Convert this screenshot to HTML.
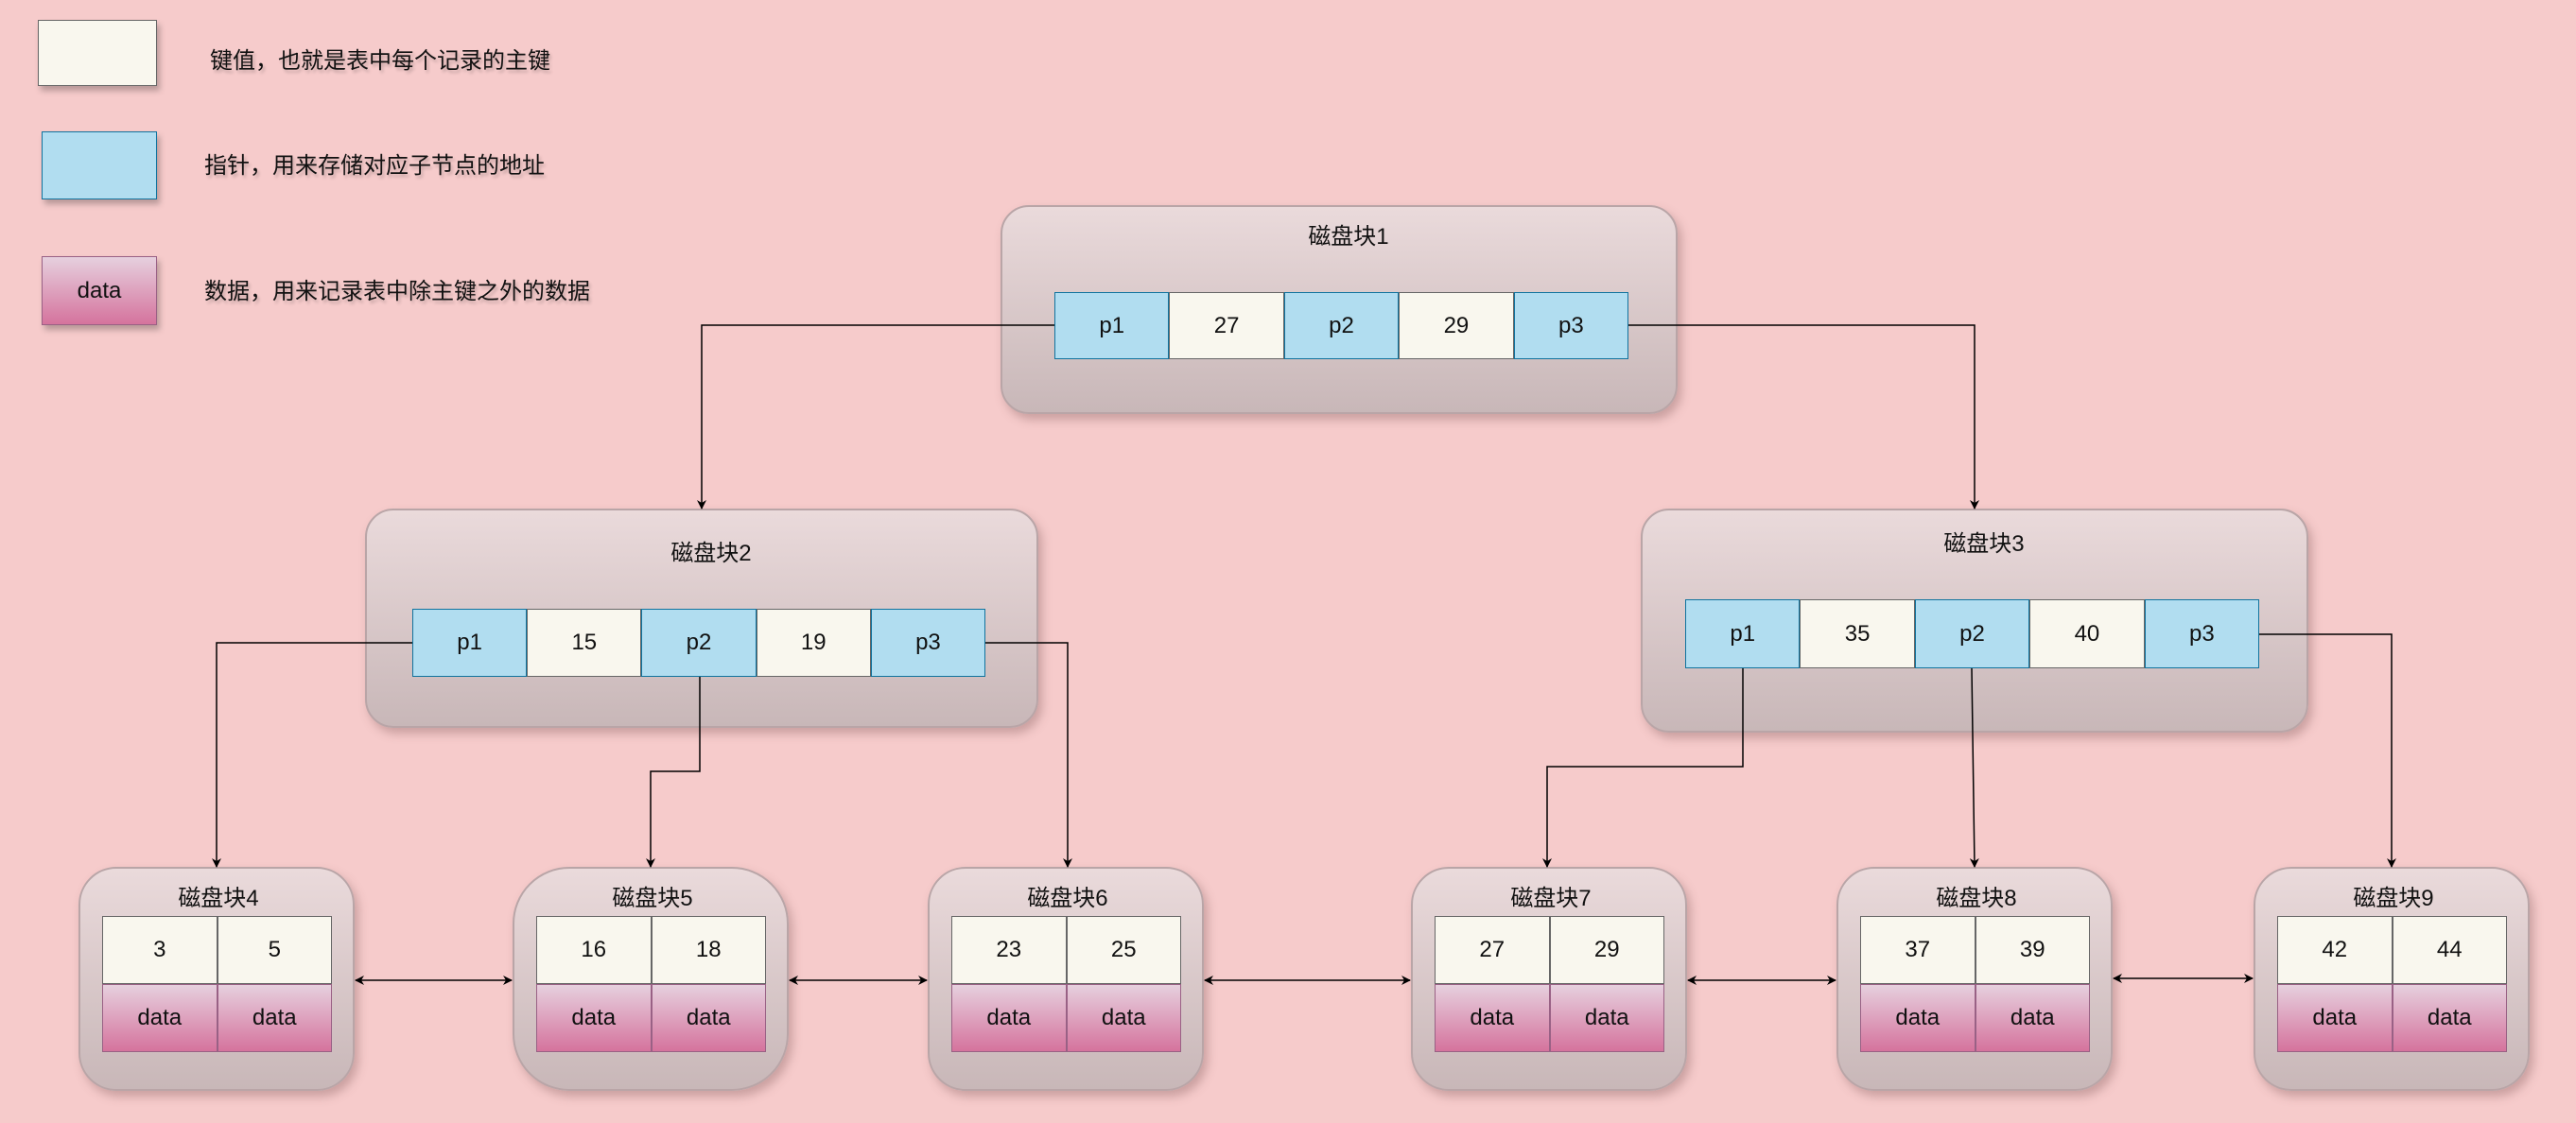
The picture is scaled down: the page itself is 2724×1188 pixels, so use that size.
<!DOCTYPE html>
<html><head><meta charset="utf-8">
<style>
*{margin:0;padding:0;box-sizing:border-box}
body{width:2724px;height:1188px;background:#f6cbcb;position:relative;overflow:hidden;font-family:"Liberation Sans","Noto Sans CJK SC",sans-serif;color:#111}
.a{position:absolute}
.blk{position:absolute;background:linear-gradient(#eadadb,#c8b7b8);border:2px solid #b9a5a7;box-shadow:4px 6px 10px rgba(120,80,80,.35)}
.ttl{position:absolute;left:0;right:0;text-align:center;font-size:24px}
.big .ttl{left:20px}
.row{position:absolute;display:flex}
.c{flex:1;display:flex;align-items:center;justify-content:center;font-size:24px;height:100%}
.k{background:#f9f7ee;border:1px solid #666}
.p{background:#b1ddf0;border:1.5px solid #10739e}
.d{background:linear-gradient(#e6d0de,#d5739d);border:1px solid #996185}
.lg{position:absolute;font-size:24px;text-shadow:2px 3px 3px rgba(0,0,0,.2)}
</style></head><body>

<div class="a k" style="left:40px;top:21px;width:126px;height:70px;box-shadow:3px 5px 6px rgba(0,0,0,.25)"></div>
<div class="a p" style="left:44px;top:139px;width:122px;height:72px;box-shadow:3px 5px 6px rgba(0,0,0,.25)"></div>
<div class="a d c" style="left:44px;top:271px;width:122px;height:73px;box-shadow:3px 5px 6px rgba(0,0,0,.25)">data</div>
<div class="lg" style="left:222px;top:44px">键值，也就是表中每个记录的主键</div>
<div class="lg" style="left:216px;top:155px">指针，用来存储对应子节点的地址</div>
<div class="lg" style="left:216px;top:288px">数据，用来记录表中除主键之外的数据</div>

<div class="blk big" style="left:1058px;top:217px;width:716px;height:221px;border-radius:30px">
 <div class="ttl" style="top:11px">磁盘块1</div>
</div>
<div class="row" style="left:1115px;top:309px;width:607px;height:71px">
 <div class="c p">p1</div><div class="c k">27</div><div class="c p">p2</div><div class="c k">29</div><div class="c p">p3</div>
</div>

<div class="blk big" style="left:386px;top:538px;width:712px;height:232px;border-radius:30px">
 <div class="ttl" style="top:25px">磁盘块2</div>
</div>
<div class="row" style="left:436px;top:644px;width:606px;height:72px">
 <div class="c p">p1</div><div class="c k">15</div><div class="c p">p2</div><div class="c k">19</div><div class="c p">p3</div>
</div>

<div class="blk big" style="left:1735px;top:538px;width:706px;height:237px;border-radius:30px">
 <div class="ttl" style="top:15px">磁盘块3</div>
</div>
<div class="row" style="left:1782px;top:634px;width:607px;height:73px">
 <div class="c p">p1</div><div class="c k">35</div><div class="c p">p2</div><div class="c k">40</div><div class="c p">p3</div>
</div>

<div class="blk" style="left:83px;top:917px;width:292px;height:237px;border-radius:40px"><div class="ttl" style="top:11px;left:4px">磁盘块4</div></div>
<div class="blk" style="left:542px;top:917px;width:292px;height:237px;border-radius:60px"><div class="ttl" style="top:11px;left:4px">磁盘块5</div></div>
<div class="blk" style="left:981px;top:917px;width:292px;height:237px;border-radius:40px"><div class="ttl" style="top:11px;left:4px">磁盘块6</div></div>
<div class="blk" style="left:1492px;top:917px;width:292px;height:237px;border-radius:40px"><div class="ttl" style="top:11px;left:4px">磁盘块7</div></div>
<div class="blk" style="left:1942px;top:917px;width:292px;height:237px;border-radius:40px"><div class="ttl" style="top:11px;left:4px">磁盘块8</div></div>
<div class="blk" style="left:2383px;top:917px;width:292px;height:237px;border-radius:40px"><div class="ttl" style="top:11px;left:4px">磁盘块9</div></div>

<div class="row" style="left:108px;top:969px;width:243px;height:72px"><div class="c k">3</div><div class="c k">5</div></div>
<div class="row" style="left:108px;top:1041px;width:243px;height:72px"><div class="c d">data</div><div class="c d">data</div></div>
<div class="row" style="left:567px;top:969px;width:243px;height:72px"><div class="c k">16</div><div class="c k">18</div></div>
<div class="row" style="left:567px;top:1041px;width:243px;height:72px"><div class="c d">data</div><div class="c d">data</div></div>
<div class="row" style="left:1006px;top:969px;width:243px;height:72px"><div class="c k">23</div><div class="c k">25</div></div>
<div class="row" style="left:1006px;top:1041px;width:243px;height:72px"><div class="c d">data</div><div class="c d">data</div></div>
<div class="row" style="left:1517px;top:969px;width:243px;height:72px"><div class="c k">27</div><div class="c k">29</div></div>
<div class="row" style="left:1517px;top:1041px;width:243px;height:72px"><div class="c d">data</div><div class="c d">data</div></div>
<div class="row" style="left:1967px;top:969px;width:243px;height:72px"><div class="c k">37</div><div class="c k">39</div></div>
<div class="row" style="left:1967px;top:1041px;width:243px;height:72px"><div class="c d">data</div><div class="c d">data</div></div>
<div class="row" style="left:2408px;top:969px;width:243px;height:72px"><div class="c k">42</div><div class="c k">44</div></div>
<div class="row" style="left:2408px;top:1041px;width:243px;height:72px"><div class="c d">data</div><div class="c d">data</div></div>

<svg class="a" style="left:0;top:0" width="2724" height="1188">
<defs><marker id="m" markerWidth="10" markerHeight="10" refX="9" refY="5" orient="auto-start-reverse" markerUnits="userSpaceOnUse"><path d="M0,0 L10,5 L0,10 L3,5z" fill="#000"/></marker></defs>
<g fill="none" stroke="#000" stroke-width="1.5">
<path d="M1115,344 H742 V538" marker-end="url(#m)"/>
<path d="M1722,344 H2088 V538" marker-end="url(#m)"/>
<path d="M436,680 H229 V917" marker-end="url(#m)"/>
<path d="M740,716 V816 H688 V917" marker-end="url(#m)"/>
<path d="M1042,680 H1129 V917" marker-end="url(#m)"/>
<path d="M1843,707 V811 H1636 V917" marker-end="url(#m)"/>
<path d="M2085,707 L2088,917" marker-end="url(#m)"/>
<path d="M2389,671 H2529 V917" marker-end="url(#m)"/>
<path d="M376,1037 H541" marker-start="url(#m)" marker-end="url(#m)"/>
<path d="M835,1037 H980" marker-start="url(#m)" marker-end="url(#m)"/>
<path d="M1274,1037 H1491" marker-start="url(#m)" marker-end="url(#m)"/>
<path d="M1785,1037 H1941" marker-start="url(#m)" marker-end="url(#m)"/>
<path d="M2235,1035 H2382" marker-start="url(#m)" marker-end="url(#m)"/>
</g></svg>
</body></html>
